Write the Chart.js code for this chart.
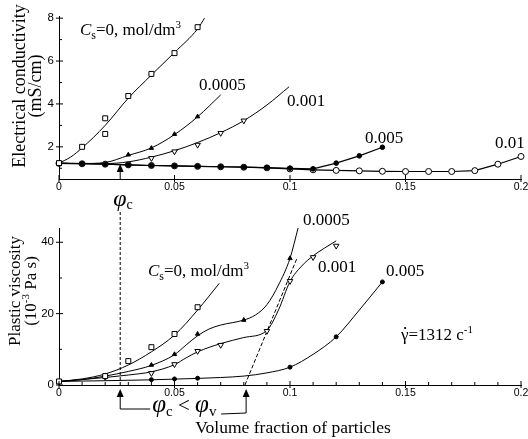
<!DOCTYPE html>
<html>
<head>
<meta charset="utf-8">
<script src="https://cdn.jsdelivr.net/npm/chart.js@4.4.1/dist/chart.umd.min.js"></script>
<style>
body { margin: 0; background: #fff; }
#wrap { position: relative; width: 528px; height: 439px; }
#wrap canvas { position: absolute; left: 0; top: 0; }
</style>
</head>
<body>
<div id="wrap">
<canvas id="bottomChart" width="528" height="439"></canvas>
<canvas id="topChart" width="528" height="439"></canvas>
</div>
<script>
// ---- top panel: electrical conductivity (mS/cm) vs volume fraction ----
const phiT0 = [0, 0.01, 0.02, 0.02, 0.03, 0.04, 0.05, 0.06];
const condT0 = [1.24, 2.0, 3.33, 2.6, 4.37, 5.4, 6.37, 7.58];
const fitPhiT0 = [0, 0.005, 0.01, 0.02, 0.03, 0.04, 0.05, 0.06, 0.063];
const fitT0 = [1.24, 1.52, 1.95, 3.0, 4.27, 5.35, 6.4, 7.5, 8.0];

const phiT05 = [0, 0.03, 0.04, 0.05, 0.06];
const condT05 = [1.24, 1.63, 1.94, 2.59, 3.41];
const fitPhiT05 = [0, 0.01, 0.02, 0.03, 0.04, 0.05, 0.06, 0.07];
const fitT05 = [1.24, 1.22, 1.27, 1.6, 1.95, 2.57, 3.4, 4.42];

const phiT1 = [0.04, 0.05, 0.06, 0.07, 0.08];
const condT1 = [1.47, 1.78, 2.09, 2.64, 3.22];
const fitPhiT1 = [0, 0.02, 0.03, 0.04, 0.05, 0.06, 0.07, 0.08, 0.09, 0.0996];
const fitT1 = [1.24, 1.22, 1.3, 1.52, 1.82, 2.2, 2.66, 3.22, 3.95, 4.8];

const phiT5 = [0, 0.01, 0.02, 0.03, 0.04, 0.05, 0.06, 0.07, 0.08, 0.09, 0.1, 0.11, 0.12, 0.13, 0.14];
const condT5 = [1.23, 1.21, 1.19, 1.16, 1.13, 1.11, 1.09, 1.07, 1.05, 1.03, 1.0, 0.97, 1.24, 1.58, 1.98];

const phiT10 = [0, 0.01, 0.02, 0.03, 0.04, 0.05, 0.06, 0.07, 0.08, 0.09, 0.1,
  0.11, 0.12, 0.13, 0.14, 0.15, 0.16, 0.17, 0.18, 0.19, 0.2];
const condT10 = [1.23, 1.21, 1.19, 1.16, 1.13, 1.11, 1.09, 1.07, 1.05, 1.02, 0.97,
  0.93, 0.9, 0.88, 0.86, 0.85, 0.85, 0.85, 0.89, 1.19, 1.55];

// ---- bottom panel: plastic viscosity (10^-3 Pa s) ----
const phiB0 = [0, 0.02, 0.03, 0.04, 0.05, 0.06];
const viscB0 = [1.0, 2.5, 6.7, 10.6, 14.3, 21.8];
const fitPhiB0 = [0, 0.01, 0.02, 0.03, 0.04, 0.05, 0.06, 0.0694];
const fitB0 = [1.0, 1.7, 3.1, 5.6, 9.3, 14.0, 21.0, 28.5];

const phiB05 = [0, 0.02, 0.04, 0.05, 0.06, 0.08, 0.1];
const viscB05 = [1.0, 2.6, 5.6, 8.6, 14.3, 18.2, 35.5];
const fitPhiB05 = [0, 0.01, 0.02, 0.03, 0.04, 0.05, 0.055, 0.06, 0.065, 0.07, 0.08, 0.085, 0.09, 0.095, 0.1, 0.1035];
const fitB05 = [1.0, 1.5, 2.5, 3.8, 5.5, 8.5, 11.2, 13.8, 15.7, 16.8, 18.2, 19.6, 22.5, 28, 35.5, 44];

const phiB1 = [0, 0.02, 0.04, 0.05, 0.06, 0.07, 0.09, 0.1, 0.11, 0.12];
const viscB1 = [1.0, 2.2, 3.3, 5.8, 9.5, 11.2, 15.1, 29.1, 35.8, 39.0];
const fitPhiB1 = [0, 0.02, 0.03, 0.04, 0.05, 0.055, 0.06, 0.07, 0.08, 0.09, 0.095, 0.1, 0.105, 0.11, 0.115, 0.12];
const fitB1 = [1.0, 2.1, 2.8, 3.7, 5.7, 7.6, 9.3, 11.6, 13.3, 15.3, 21, 29, 33.3, 36.2, 38.4, 40.4];

const phiB5 = [0, 0.04, 0.05, 0.06, 0.1, 0.12, 0.14];
const viscB5 = [1.0, 1.5, 1.7, 1.9, 5.0, 13.5, 28.9];
const fitPhiB5 = [0, 0.02, 0.04, 0.06, 0.07, 0.08, 0.09, 0.1, 0.11, 0.12, 0.13, 0.14];
const fitB5 = [1.0, 1.2, 1.45, 1.85, 2.1, 2.5, 3.4, 5.0, 8.6, 13.5, 21, 28.9];

// tangent construction line and the two marked fractions
const tangentPhi = [0.0805, 0.103];
const tangentVisc = [0, 35.5];
const PHI_C = 0.0265;
const PHI_V = 0.081;

const xTickVals = [0, 0.05, 0.1, 0.15, 0.2];
const yTickTop = [2, 4, 6, 8];
const yTickBottom = [0, 20, 40];

const SERIF = '"Liberation Serif", "Times New Roman", serif';
const SANS = '"Liberation Sans", Arial, sans-serif';

function pts(xs, ys) {
    return xs.map(function (x, i) { return { x: x, y: ys[i] }; });
}

function markers(data, style, radius, fill, rotation) {
    return {
        data: data, showLine: false, pointStyle: style, pointRadius: radius,
        pointRotation: rotation || 0, pointBackgroundColor: fill,
        pointBorderColor: '#000', pointBorderWidth: 1, clip: false
    };
}

function curve(data, extra) {
    return Object.assign({
        data: data, showLine: true, pointRadius: 0, borderColor: '#000',
        borderWidth: 1, cubicInterpolationMode: 'monotone', fill: false
    }, extra || {});
}

function scales(yMin, yMax, yTicks) {
    return {
        x: {
            type: 'linear', min: 0, max: 0.2,
            grid: { display: false, drawTicks: false },
            border: { display: true, color: '#000', width: 1 },
            afterBuildTicks: function (s) { s.ticks = xTickVals.map(function (v) { return { value: v }; }); },
            afterFit: function (s) { s.height = 20; s.paddingLeft = 0; s.paddingRight = 0; },
            ticks: { color: '#000', font: { family: SANS, size: 10.5 }, padding: 2, maxRotation: 0,
                callback: function (v) { return String(v); } }
        },
        y: {
            type: 'linear', min: yMin, max: yMax,
            grid: { display: false, drawTicks: false },
            border: { display: true, color: '#000', width: 1 },
            afterBuildTicks: function (s) { s.ticks = yTicks.map(function (v) { return { value: v }; }); },
            afterFit: function (s) { s.width = 59; s.paddingTop = 0; s.paddingBottom = 0; },
            ticks: { color: '#000', font: { family: SANS, size: 11.5 }, padding: 5,
                callback: function (v) { return String(v); } }
        }
    };
}

// rich text: parts drawn one after another from (x, y)
function partsWidth(ctx, parts) {
    let w = 0;
    parts.forEach(function (p) {
        ctx.font = (p.italic ? 'italic ' : '') + p.size + 'px ' + SERIF;
        w += ctx.measureText(p.t).width;
    });
    return w;
}
function drawParts(ctx, x, y, parts) {
    let cx = x;
    ctx.textAlign = 'left';
    ctx.textBaseline = 'alphabetic';
    parts.forEach(function (p) {
        ctx.font = (p.italic ? 'italic ' : '') + p.size + 'px ' + SERIF;
        ctx.fillText(p.t, cx, y + (p.dy || 0));
        cx += ctx.measureText(p.t).width;
    });
    return cx;
}
function drawRotated(ctx, x, yc, parts) {
    ctx.save();
    ctx.translate(x, yc);
    ctx.rotate(-Math.PI / 2);
    drawParts(ctx, -partsWidth(ctx, parts) / 2, 0, parts);
    ctx.restore();
}
function csLabel() {
    return [{ t: 'C', size: 17, italic: true }, { t: 's', size: 12, dy: 4 },
        { t: '=0, mol/dm', size: 17 }, { t: '3', size: 11, dy: -7 }];
}
function plain(t) { return [{ t: t, size: 17 }]; }

function upArrow(ctx, x, tip) {
    ctx.beginPath();
    ctx.moveTo(x, tip);
    ctx.lineTo(x - 3.5, tip + 8);
    ctx.lineTo(x + 3.5, tip + 8);
    ctx.closePath();
    ctx.fill();
}

function tickMarks(ctx, chart, xMajor, xMinor, yMajor, yMinor) {
    const a = chart.chartArea, sx = chart.scales.x, sy = chart.scales.y;
    ctx.beginPath();
    xMajor.forEach(function (v) { const p = sx.getPixelForValue(v); ctx.moveTo(p, a.bottom - 4); ctx.lineTo(p, a.bottom + 3); });
    xMinor.forEach(function (v) { const p = sx.getPixelForValue(v); ctx.moveTo(p, a.bottom - 3); ctx.lineTo(p, a.bottom); });
    yMajor.forEach(function (v) { const p = sy.getPixelForValue(v); ctx.moveTo(a.left - 3, p); ctx.lineTo(a.left + 4, p); });
    yMinor.forEach(function (v) { const p = sy.getPixelForValue(v); ctx.moveTo(a.left, p); ctx.lineTo(a.left + 3, p); });
    ctx.stroke();
}

const topNotes = {
    id: 'topNotes',
    afterDraw: function (chart) {
        const ctx = chart.ctx, sx = chart.scales.x, sy = chart.scales.y, a = chart.chartArea;
        ctx.save();
        ctx.fillStyle = '#000';
        ctx.strokeStyle = '#000';
        ctx.lineWidth = 1;
        tickMarks(ctx, chart, xTickVals, [], yTickTop, [1, 3, 5, 7]);

        drawParts(ctx, sx.getPixelForValue(0.0091), sy.getPixelForValue(7.2), csLabel());
        drawParts(ctx, sx.getPixelForValue(0.0606), sy.getPixelForValue(4.65), plain('0.0005'));
        drawParts(ctx, sx.getPixelForValue(0.0987), sy.getPixelForValue(3.9), plain('0.001'));
        drawParts(ctx, sx.getPixelForValue(0.1325), sy.getPixelForValue(2.18), plain('0.005'));
        drawParts(ctx, sx.getPixelForValue(0.1887), sy.getPixelForValue(1.95), plain('0.01'));

        // phi_c arrow
        const xc = sx.getPixelForValue(PHI_C);
        upArrow(ctx, xc, sy.getPixelForValue(1.2));
        ctx.beginPath();
        ctx.moveTo(xc, sy.getPixelForValue(1.2) + 8);
        ctx.lineTo(xc, a.bottom);
        ctx.stroke();
        drawParts(ctx, xc - 7, a.bottom + 27, [{ t: 'φ', size: 24, italic: true }, { t: 'c', size: 14, dy: 3 }]);

        drawRotated(ctx, 25, 86, [{ t: 'Electrical conductivity', size: 18 }]);
        drawRotated(ctx, 41, 86, [{ t: '(mS/cm)', size: 18 }]);
        ctx.restore();
    }
};

const bottomNotes = {
    id: 'bottomNotes',
    afterDraw: function (chart) {
        const ctx = chart.ctx, sx = chart.scales.x, sy = chart.scales.y, a = chart.chartArea;
        ctx.save();
        ctx.fillStyle = '#000';
        ctx.strokeStyle = '#000';
        ctx.lineWidth = 1;
        tickMarks(ctx, chart, xTickVals,
            [0.01, 0.02, 0.03, 0.04, 0.06, 0.07, 0.08, 0.09, 0.11, 0.12, 0.13, 0.14, 0.16, 0.17, 0.18, 0.19],
            yTickBottom, [10, 30]);

        drawParts(ctx, sx.getPixelForValue(0.0385), sy.getPixelForValue(30.5), csLabel());
        drawParts(ctx, sx.getPixelForValue(0.1056), sy.getPixelForValue(44.8), plain('0.0005'));
        drawParts(ctx, sx.getPixelForValue(0.1121), sy.getPixelForValue(31.7), plain('0.001'));
        drawParts(ctx, sx.getPixelForValue(0.1416), sy.getPixelForValue(30.5), plain('0.005'));

        // shear rate note
        const gx = sx.getPixelForValue(0.148), gy = sy.getPixelForValue(12.6);
        const after = drawParts(ctx, gx, gy, [{ t: 'γ', size: 17 }]);
        ctx.beginPath();
        ctx.arc((gx + after) / 2 + 0.5, gy - 12, 1.1, 0, Math.PI * 2);
        ctx.fill();
        drawParts(ctx, after, gy, [{ t: '=1312 c', size: 17 }, { t: '-1', size: 11, dy: -7 }]);

        // phi_c dashed guide from the top panel down to this axis
        const xc = sx.getPixelForValue(PHI_C), xv = sx.getPixelForValue(PHI_V);
        ctx.save();
        ctx.setLineDash([3, 2]);
        ctx.beginPath();
        ctx.moveTo(xc, 212);
        ctx.lineTo(xc, a.bottom);
        ctx.stroke();
        ctx.restore();

        // bracket phi_c < phi_v
        upArrow(ctx, xc, a.bottom + 4);
        upArrow(ctx, xv, a.bottom + 4);
        ctx.beginPath();
        ctx.moveTo(xc, a.bottom + 12);
        ctx.lineTo(xc, a.bottom + 24);
        ctx.lineTo(xc + 30, a.bottom + 24);
        ctx.moveTo(xv - 25, a.bottom + 29);
        ctx.lineTo(xv, a.bottom + 28);
        ctx.lineTo(xv, a.bottom + 12);
        ctx.stroke();
        drawParts(ctx, xc + 32, a.bottom + 27, [
            { t: 'φ', size: 25, italic: true }, { t: 'c', size: 15, dy: 4 },
            { t: ' < ', size: 21 },
            { t: 'φ', size: 25, italic: true }, { t: 'v', size: 15, dy: 4 }]);

        // axis titles
        const xt = [{ t: 'Volume fraction of particles', size: 17.5 }];
        drawParts(ctx, (a.left + a.right) / 2 - partsWidth(ctx, xt) / 2 + 3, 433, xt);
        drawRotated(ctx, 20, 291, [{ t: 'Plastic viscosity', size: 17 }]);
        drawRotated(ctx, 36, 291, [{ t: '(10', size: 17 }, { t: '-3', size: 11, dy: -7 }, { t: ' Pa s)', size: 17 }]);
        ctx.restore();
    }
};

const common = {
    responsive: false,
    animation: false,
    events: [],
    plugins: { legend: { display: false }, tooltip: { enabled: false }, title: { display: false } }
};

new Chart(document.getElementById('topChart'), {
    type: 'scatter',
    data: {
        datasets: [
            markers(pts(phiT0, condT0), 'rect', 3.5, '#fff'),
            markers(pts(phiT05, condT05), 'triangle', 2.5, '#000'),
            markers(pts(phiT1, condT1), 'triangle', 3.2, '#fff', 180),
            Object.assign(markers(pts(phiT5, condT5), 'circle', 2.3, '#000'), { showLine: true, borderColor: '#000', borderWidth: 1.2 }),
            Object.assign(markers(pts(phiT10, condT10), 'circle', 3, '#fff'), { showLine: true, borderColor: '#000', borderWidth: 1.2 }),
            curve(pts(fitPhiT0, fitT0)),
            curve(pts(fitPhiT05, fitT05)),
            curve(pts(fitPhiT1, fitT1))
        ]
    },
    options: Object.assign({}, common, {
        layout: { padding: { left: 0, right: 7, top: 16, bottom: 240 } },
        scales: scales(0.5, 8.1, yTickTop)
    }),
    plugins: [topNotes]
});

new Chart(document.getElementById('bottomChart'), {
    type: 'scatter',
    data: {
        datasets: [
            markers(pts(phiB0, viscB0), 'rect', 3.5, '#fff'),
            markers(pts(phiB05, viscB05), 'triangle', 2.5, '#000'),
            markers(pts(phiB1, viscB1), 'triangle', 3.2, '#fff', 180),
            markers(pts(phiB5, viscB5), 'circle', 2, '#000'),
            curve(pts(fitPhiB0, fitB0)),
            curve(pts(fitPhiB05, fitB05), { clip: false }),
            curve(pts(fitPhiB1, fitB1)),
            curve(pts(fitPhiB5, fitB5)),
            curve(pts(tangentPhi, tangentVisc), { borderDash: [4, 2], cubicInterpolationMode: 'default' })
        ]
    },
    options: Object.assign({}, common, {
        layout: { padding: { left: 0, right: 7, top: 228, bottom: 34 } },
        scales: scales(0, 44, yTickBottom)
    }),
    plugins: [bottomNotes]
});
</script>
</body>
</html>
